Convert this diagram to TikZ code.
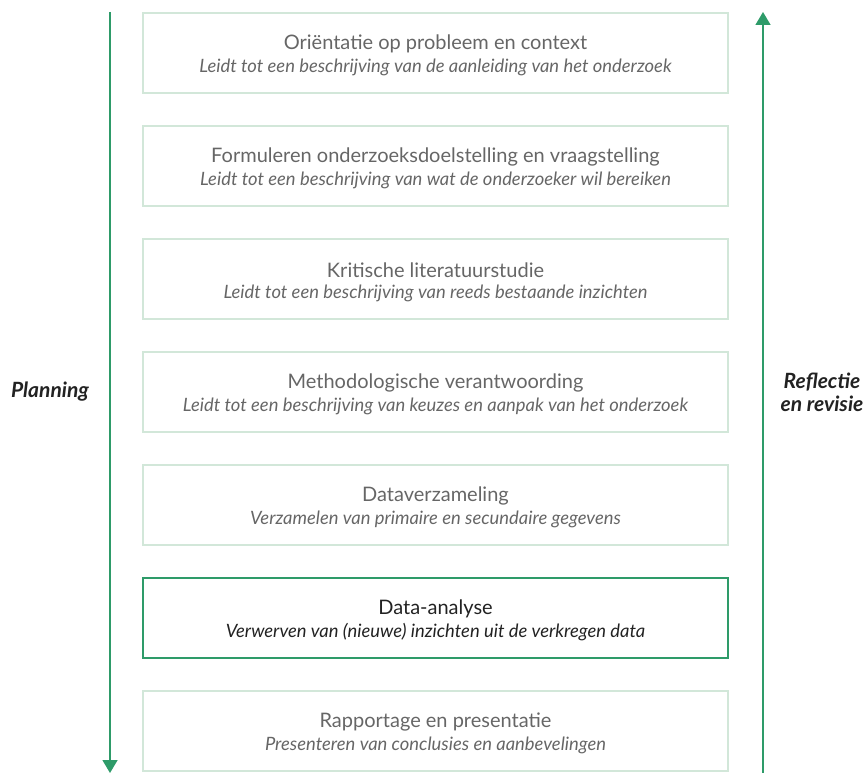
\documentclass[tikz,border=0pt]{standalone}
\usepackage{fontspec}
\setmainfont{Lato}
\usetikzlibrary{arrows.meta}
\definecolor{arrowgreen}{HTML}{2E9B69}
\definecolor{paleborder}{HTML}{D2E7D9}
\definecolor{stepgray}{HTML}{666666}
\definecolor{activetext}{HTML}{222222}
\begin{document}
\begin{tikzpicture}[x=1pt,y=-1pt,
  stepbox/.style={draw=paleborder,line width=2.5pt,minimum width=585pt,minimum height=80pt,
    inner sep=0pt,align=center,text=stepgray},
  activebox/.style={stepbox,draw=arrowgreen,line width=2pt,text=activetext},
  steptitle/.style={font=\fontsize{20}{24}\selectfont},
  stepsub/.style={font=\fontsize{18.4}{22}\selectfont\itshape},
  flow/.style={draw=arrowgreen,line width=1.5pt,-{Triangle[length=13pt,width=15pt]}},
  sidelabel/.style={font=\fontsize{21}{23}\selectfont\itshape\bfseries,text=activetext,align=center}]
\useasboundingbox (0,0) rectangle (868,773);

% process steps
\foreach \i/\t/\s in {
  1/{Oriëntatie op probleem en context}/{Leidt tot een beschrijving van de aanleiding van het onderzoek},
  2/{Formuleren onderzoeksdoelstelling en vraagstelling}/{Leidt tot een beschrijving van wat de onderzoeker wil bereiken},
  3/{Kritische literatuurstudie}/{Leidt tot een beschrijving van reeds bestaande inzichten},
  4/{Methodologische verantwoording}/{Leidt tot een beschrijving van keuzes en aanpak van het onderzoek},
  5/{Dataverzameling}/{Verzamelen van primaire en secundaire gegevens},
  7/{Rapportage en presentatie}/{Presenteren van conclusies en aanbevelingen}}{
  \node[stepbox] (s\i) at (435.5,{53+113*(\i-1)}) {};
  \node[steptitle,text=stepgray] at ([yshift=9pt]s\i.center) {\t};
  \node[stepsub,text=stepgray] at ([yshift=-14pt]s\i.center) {\s};
}
\node[activebox] (s6) at (435.5,618) {};
\node[steptitle,text=activetext] at ([yshift=9pt]s6.center) {Data-analyse};
\node[stepsub,text=activetext] at ([yshift=-14pt]s6.center) {Verwerven van (nieuwe) inzichten uit de verkregen data};

% side arrows
\coordinate (ptop) at (110,12);
\coordinate (pbot) at (110,773);
\coordinate (rbot) at (763,773);
\coordinate (rtop) at (763,12);
\draw[flow] (ptop) -- (pbot);
\draw[flow] (rbot) -- (rtop);

\node[sidelabel] (plan) at (50,392) {Planning};
\node[sidelabel] (refl) at (822,392) {Reflectie\\en revisie};
\end{tikzpicture}
\end{document}
